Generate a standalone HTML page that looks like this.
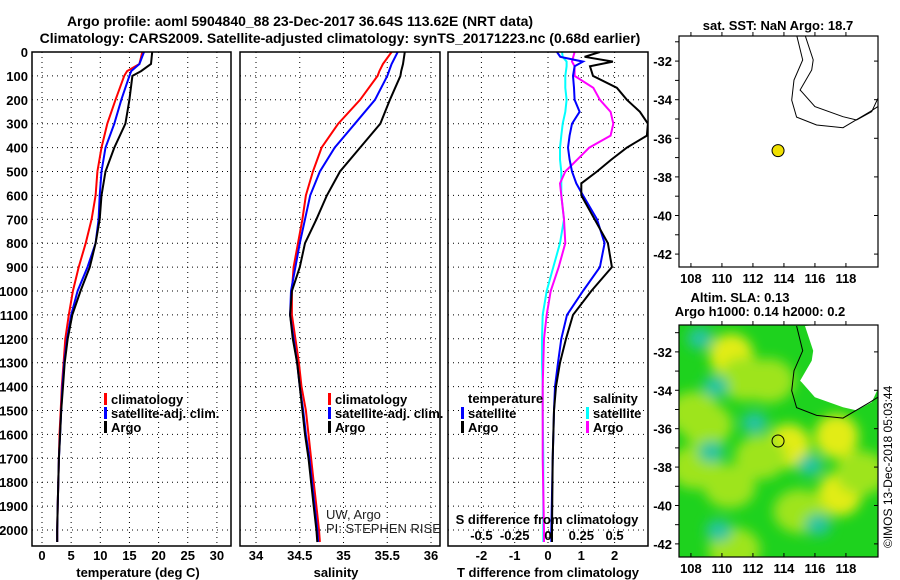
<!DOCTYPE html>
<html><head><meta charset="utf-8">
<style>
body{margin:0;background:#fff;}
svg{display:block;font-family:"Liberation Sans",sans-serif;}
.t{font-weight:bold;font-size:13px;}
</style></head>
<body>
<svg id="fig" width="900" height="580" viewBox="0 0 900 580">
<defs>
<clipPath id="c1"><rect x="32" y="52" width="199" height="494"/></clipPath>
<clipPath id="c2"><rect x="240" y="52" width="200" height="494"/></clipPath>
<clipPath id="c3"><rect x="448" y="52" width="200" height="494"/></clipPath>
<clipPath id="cm1"><rect x="679" y="36" width="199" height="231"/></clipPath>
<clipPath id="cm2"><rect x="679" y="325" width="199" height="232"/></clipPath>
<filter id="bl" x="-50%" y="-50%" width="200%" height="200%"><feGaussianBlur stdDeviation="6"/></filter>
</defs>
<text x="300" y="26" text-anchor="middle" font-size="14" font-weight="bold">Argo profile: aoml 5904840_88 23-Dec-2017 36.64S 113.62E (NRT data)</text>
<text x="340" y="43" text-anchor="middle" font-size="14" font-weight="bold">Climatology: CARS2009. Satellite-adjusted climatology: synTS_20171223.nc (0.68d earlier)</text>
<g id="g"></g>
</svg>
<script>
const depths=[0,50,80,100,200,300,400,500,600,700,800,900,1000,1100,1200,1300,1400,1500,1600,1700,1800,1900,2000,2050];
const tempArgo=[18.9,18.7,17.0,15.5,15.0,14.3,12.4,10.9,10.2,9.9,9.2,8.2,6.6,5.2,4.4,3.9,3.6,3.3,3.1,2.9,2.8,2.7,2.6,2.6];
const tempClim=[17.2,16.7,14.6,14.1,12.6,11.2,10.2,9.5,9.2,8.5,7.5,6.3,5.3,4.6,4.0,3.7,3.4,3.2,3.0,2.9,2.8,2.7,2.6,2.6];
const tempSat=[17.5,16.7,15.3,15.0,13.6,12.4,10.9,10.2,9.9,9.7,9.2,7.8,6.1,5.0,4.3,3.8,3.5,3.3,3.1,2.9,2.8,2.7,2.6,2.6];
const salArgo=[35.70,35.68,35.66,35.65,35.53,35.42,35.19,34.96,34.81,34.69,34.56,34.50,34.41,34.39,34.42,34.47,34.50,34.53,34.56,34.60,34.63,34.66,34.69,34.70];
const salClim=[35.55,35.45,35.41,35.39,35.19,34.94,34.75,34.65,34.57,34.53,34.48,34.43,34.41,34.41,34.45,34.49,34.52,34.57,34.60,34.63,34.66,34.69,34.72,34.73];
const salSat=[35.62,35.55,35.52,35.50,35.36,35.13,34.90,34.73,34.62,34.56,34.50,34.45,34.40,34.39,34.43,34.47,34.50,34.54,34.57,34.61,34.64,34.67,34.70,34.71];
const diffDepths=[0,20,40,60,100,150,200,250,300,350,400,450,500,550,600,700,800,900,1000,1100,1200,1300,1400,1500,1700,2000,2050];
const dTArgo=[1.56,1.1,1.95,1.26,1.35,2.07,2.37,2.76,3.0,2.97,2.37,1.9,1.47,1.0,1.0,1.4,1.8,1.92,1.3,0.75,0.54,0.36,0.24,0.18,0.14,0.12,0.12];
const dTSat=[0.27,0.37,1.05,0.8,0.75,0.78,0.8,0.95,0.72,0.65,0.6,0.65,0.72,0.85,1.05,1.47,1.7,1.56,1.05,0.57,0.4,0.3,0.21,0.18,0.14,0.1,0.1];
const dSSat=[0.105,0.11,0.14,0.14,0.13,0.13,0.14,0.13,0.11,0.10,0.09,0.09,0.10,0.10,0.10,0.12,0.09,0.04,-0.01,-0.04,-0.045,-0.045,-0.04,-0.04,-0.035,-0.035,-0.035];
const dSArgo=[0.2,0.19,0.18,0.2,0.2,0.34,0.39,0.47,0.49,0.47,0.31,0.22,0.13,0.09,0.10,0.12,0.13,0.08,0.02,-0.01,-0.03,-0.035,-0.04,-0.04,-0.04,-0.03,-0.03];
const depthTicks=[0,100,200,300,400,500,600,700,800,900,1000,1100,1200,1300,1400,1500,1600,1700,1800,1900,2000];
const tempTicks=[0,5,10,15,20,25,30];
const salTicks=[34,34.5,35,35.5,36];
const salTickLabels=["34","34.5","35","35.5","36"];
const dTTicks=[-2,-1,0,1,2];
const dSTicks=[-0.5,-0.25,0,0.25,0.5];
const dSTickLabels=["-0.5","-0.25","0","0.25","0.5"];
const lonTicks=[108,110,112,114,116,118];
const latTicks=[-32,-34,-36,-38,-40,-42];
const floatLon=113.62, floatLat=-36.64;
const shelfLon=[114.82,115.21,114.65,114.50,114.82,116.11,117.81,119.55,120.06];
const shelfLat=[-30.65,-31.94,-32.98,-34.02,-34.90,-35.31,-35.45,-34.62,-34.36];
const coastLon=[115.36,115.89,115.79,115.04,115.15,116.0,117.81,118.69,119.66,120.06];
const coastLat=[-30.65,-31.94,-32.46,-33.5,-33.59,-34.36,-34.88,-35.05,-34.62,-33.93];
const blobLon=[110.6,111.5,108.2,114.3,117.4,117.6,110.8,109.0,113.0,110.5,115.0,119.0,112.5,108.3,108.6,109.6,112.1,109.3,115.7,116.2,109.8];
const blobLat=[-32.2,-33.4,-35.2,-36.9,-36.4,-39.4,-42.3,-35.8,-33.5,-39.0,-40.3,-38.3,-37.5,-38.0,-31.3,-33.8,-35.7,-37.2,-37.9,-41.0,-41.3];
const blobKind=["y","l","l","y","y","y","l","l","l","l","l","l","l","l","c","c","c","c","c","c","c"];

const NS="http://www.w3.org/2000/svg";
const G=document.getElementById('g');
function mk(tag,at,parent){const e=document.createElementNS(NS,tag);for(const k in at)e.setAttribute(k,at[k]);(parent||G).appendChild(e);return e;}
const yD=d=>52+d*0.239;
const xT=v=>42+v*5.83;
const xS=v=>256+(v-34)*87.5;
const xDT=v=>548+v*33.3;
const xDS=v=>548+v*133.2;
const mapX=lon=>679+(lon-107.23)*15.5;
const mapY1=lat=>36+(-30.7-lat)*19.3;
const mapY2=lat=>325+(-30.6-lat)*19.2;

function panel(x0,w,name){
  const g=mk('g',{});
  
  
  depthTicks.forEach(d=>{const l=mk('line',{x1:x0,x2:x0+w,y1:yD(d),y2:yD(d),stroke:'#000','stroke-dasharray':'1,4','stroke-width':1},g);
    });
  return g;
}
function frame(x0,w,name){const r=mk('rect',{x:x0,y:52,width:w,height:494,fill:'none',stroke:'#000','stroke-width':1.5});
  }
function vgrid(g,arr,fx){arr.forEach(v=>{const l=mk('line',{x1:fx(v),x2:fx(v),y1:52,y2:546,stroke:'#000','stroke-dasharray':'1,4'},g);
  });}
function line(g,ys,xs,fx,col,name,clip){
  const pts=xs.map((v,i)=>fx(v).toFixed(1)+','+yD(ys[i]).toFixed(1)).join(' ');
  const p=mk('polyline',{points:pts,fill:'none',stroke:col,'stroke-width':2,'clip-path':'url(#'+clip+')'},g);
  
}
function txt(x,y,s,opt,g){const t=mk('text',Object.assign({x:x,y:y,class:'t'},opt||{}),g);t.textContent=s;return t;}

const p1=panel(32,199,'temperature-panel');
vgrid(p1,tempTicks,xT);
line(p1,depths,tempClim,xT,'#f00','climatology-temp-line','c1');
line(p1,depths,tempSat,xT,'#00f','satellite-temp-line','c1');
line(p1,depths,tempArgo,xT,'#000','argo-temp-line','c1');
frame(32,199,'temperature-axes');
depthTicks.forEach(d=>{const t=txt(28,yD(d)+5,String(d),{'text-anchor':'end'});});
tempTicks.forEach(v=>{const t=txt(xT(v),560,String(v),{'text-anchor':'middle'});});
{const t=txt(138,577,'temperature (deg C)',{'text-anchor':'middle'});}
function legend(x,y,col,label,name){const r=mk('rect',{x:x,y:y-10,width:3,height:12,fill:col});
  const t=txt(x+7,y+1,label);}
legend(104,403,'#f00','climatology','legend-climatology');
legend(104,417,'#00f','satellite-adj. clim.','legend-satellite-adj');
legend(104,431,'#000','Argo','legend-argo');

const p2=panel(240,200,'salinity-panel');
vgrid(p2,salTicks,xS);
line(p2,depths,salClim,xS,'#f00','climatology-salinity-line','c2');
line(p2,depths,salSat,xS,'#00f','satellite-salinity-line','c2');
line(p2,depths,salArgo,xS,'#000','argo-salinity-line','c2');
frame(240,200,'salinity-axes');
salTicks.forEach((v,i)=>{const t=txt(xS(v),560,salTickLabels[i],{'text-anchor':'middle'});});
{const t=txt(336,577,'salinity',{'text-anchor':'middle'});}
legend(328,403,'#f00','climatology','legend-climatology-2');
legend(328,417,'#00f','satellite-adj. clim.','legend-satellite-adj-2');
legend(328,431,'#000','Argo','legend-argo-2');
{const g=mk('g',{'clip-path':'url(#c2)'});
 const a=mk('text',{x:326,y:519,'font-size':13,fill:'#222'},g);a.textContent='UW, Argo';
 const b=mk('text',{x:326,y:533,'font-size':13,fill:'#222'},g);b.textContent='PI: STEPHEN RISER';}

const p3=panel(448,200,'difference-panel');
vgrid(p3,dTTicks,xDT);
line(p3,diffDepths,dSSat,xDS,'#0ff','satellite-salinity-diff-line','c3');
line(p3,diffDepths,dSArgo,xDS,'#f0f','argo-salinity-diff-line','c3');
line(p3,diffDepths,dTSat,xDT,'#00f','satellite-temp-diff-line','c3');
line(p3,diffDepths,dTArgo,xDT,'#000','argo-temp-diff-line','c3');
frame(448,200,'difference-axes');
dTTicks.forEach(v=>{const t=txt(xDT(v),560,String(v),{'text-anchor':'middle'});});
dSTicks.forEach((v,i)=>{const t=txt(xDS(v),540,dSTickLabels[i],{'text-anchor':'middle'});});
{const t=txt(547,524,'S difference from climatology',{'text-anchor':'middle'});}
{const t=txt(548,577,'T difference from climatology',{'text-anchor':'middle'});}
{const t=txt(468,403,'temperature');
 const s=txt(593,403,'salinity');}
legend(461,417,'#00f','satellite','legend-temp-satellite');
legend(461,431,'#000','Argo','legend-temp-argo');
legend(586,417,'#0ff','satellite','legend-sal-satellite');
legend(586,431,'#f0f','Argo','legend-sal-argo');

function mapAxes(y0,h,fy,name){
  const r=mk('rect',{x:679,y:y0,width:199,height:h,fill:'none',stroke:'#000','stroke-width':1.2});
  
  lonTicks.forEach(v=>{mk('line',{x1:mapX(v),x2:mapX(v),y1:y0,y2:y0-4,stroke:'#000'});mk('line',{x1:mapX(v),x2:mapX(v),y1:y0+h,y2:y0+h-4,stroke:'#000'});
    const t=txt(mapX(v),y0+h+16,String(v),{'text-anchor':'middle'});});
  latTicks.forEach(v=>{mk('line',{x1:679,x2:675,y1:fy(v),y2:fy(v),stroke:'#000'});mk('line',{x1:878,x2:874,y1:fy(v),y2:fy(v),stroke:'#000'});
    const t=txt(672,fy(v)+5,String(v),{'text-anchor':'end'});});
  [-31,-33,-35,-37,-39,-41].forEach(v=>{mk('line',{x1:679,x2:675,y1:fy(v),y2:fy(v),stroke:'#000'});});
}
function coast(fy,lons,lats,clip,name,g){const p=mk('polyline',{points:lons.map((v,i)=>mapX(v).toFixed(1)+','+fy(lats[i]).toFixed(1)).join(' '),fill:'none',stroke:'#000','stroke-width':1,'clip-path':'url(#'+clip+')'},g);
  }
{const t=txt(778,30,'sat. SST: NaN Argo: 18.7',{'text-anchor':'middle','font-size':12});}
coast(mapY1,shelfLon,shelfLat,'cm1','sst-map-shelf-line');
coast(mapY1,coastLon,coastLat,'cm1','sst-map-coastline');
{const c=mk('circle',{cx:mapX(floatLon),cy:mapY1(floatLat),r:6,fill:'#f0e000',stroke:'#000'});}
mapAxes(36,231,mapY1,'sst-map-axes');

{const g=mk('g',{'clip-path':'url(#cm2)'});
 mk('rect',{x:679,y:325,width:199,height:232,fill:'#1ed21e'},g);
 const bg=mk('g',{filter:'url(#bl)'},g);
 const col={y:'#e2ec12',l:'#9ee41c',c:'#28c4a0'};
 const rx={y:22,l:26,c:13}, ry={y:22,l:22,c:11};
 blobLon.forEach((v,i)=>{const k=blobKind[i];const e=mk('ellipse',{cx:mapX(v),cy:mapY2(blobLat[i]),rx:rx[k],ry:ry[k],fill:col[k]},bg);
   });
 const land=coastLon.map((v,i)=>mapX(v).toFixed(1)+','+mapY2(coastLat[i]).toFixed(1)).join(' ')+' 880,320';
 const lp=mk('polygon',{points:land,fill:'#fff'},g);
 coast(mapY2,shelfLon,shelfLat,'cm2','sla-map-shelf-line',g);
 const c=mk('circle',{cx:mapX(floatLon),cy:mapY2(floatLat),r:6,fill:'none',stroke:'#000'},g);
}
{const t=txt(740,302,'Altim. SLA: 0.13',{'font-size':12,'text-anchor':'middle'});
 const u=txt(760,316,'Argo h1000: 0.14 h2000: 0.2',{'font-size':12,'text-anchor':'middle'});}
mapAxes(325,232,mapY2,'sla-map-axes');
{const t=mk('text',{x:0,y:0,'font-size':12,transform:'translate(892,548) rotate(-90)'});t.textContent='©IMOS 13-Dec-2018 05:03:44';}
</script>
</body></html>
